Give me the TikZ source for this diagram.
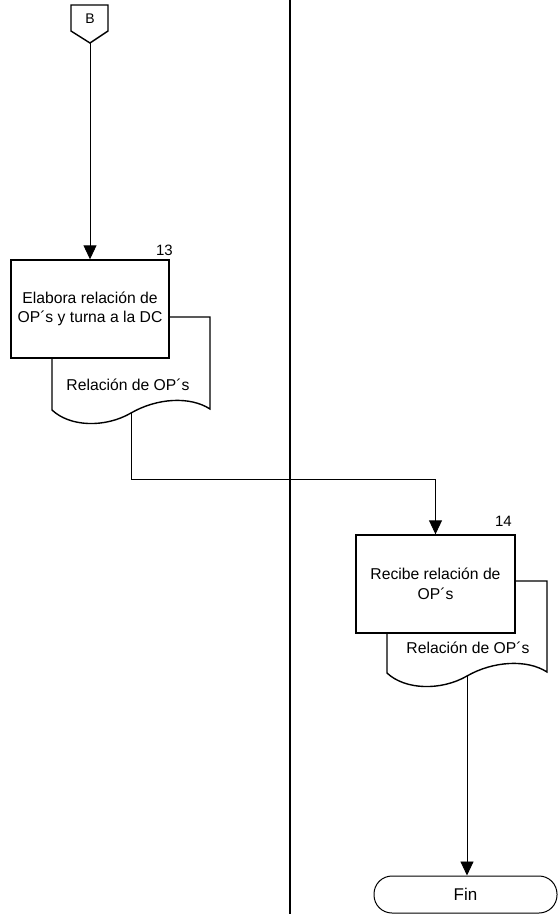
\documentclass[tikz,border=0pt]{standalone}
\usepackage{fontspec}
\setmainfont{Liberation Sans}
\usetikzlibrary{arrows.meta,calc}
\begin{document}
\begin{tikzpicture}[x=1pt,y=-1pt,
  conn/.style={line width=0.9pt},
  arr/.style={conn,-{Triangle[length=14pt,width=13pt]}},
  proc/.style={draw,line width=1.4pt,fill=white,minimum width=158pt,minimum height=98pt,inner sep=0pt,align=center,font=\fontsize{15.7}{19.5}\selectfont},
  docshape/.style={draw,line width=1.4pt,fill=white},
  lbl/.style={font=\fontsize{15.7}{19}\selectfont,inner sep=0pt},
  num/.style={font=\fontsize{15}{18}\selectfont,inner sep=0pt}]
\useasboundingbox (0,0) rectangle (559,914);
% lane divider
\draw[line width=2pt] (290,0) -- (290,914);
% off-page connector B
\draw[line width=1.4pt,fill=white] (71,5) -- (108,5) -- (108,31) -- (90,43) -- (71,31) -- cycle;
\node[lbl,font=\fontsize{14}{16}\selectfont] (B) at (90,19) {B};
\coordinate (Bt) at (90,43);
% document 13
\draw[docshape] (52,317) -- (210,317) -- (210,409)
  .. controls (190,396) and (157,398) .. (131,413)
  .. controls (105,428) and (70,427) .. (52,410) -- cycle;
\coordinate (d13) at (131,413);
\node[lbl] (t13) at (128,385) {Relación de OP´s};
% process 13
\node[proc] (box13) at (90,309) {Elabora relación de\\OP´s y turna a la DC};
\node[num,anchor=south east] (n13) at (173,256) {13};
% document 14
\draw[docshape] (387,581) -- (547,581) -- (547,672)
  .. controls (527,659) and (493,661) .. (467,676)
  .. controls (441,691) and (405,690) .. (387,673) -- cycle;
\coordinate (d14) at (467,676);
\node[lbl] (t14) at (468,648) {Relación de OP´s};
% process 14
\node[proc,minimum width=159pt] (box14) at (435.5,584) {Recibe relación de\\OP´s};
\node[num,anchor=south east] (n14) at (512,527) {14};
% terminator
\node[draw,line width=1pt,rounded corners=18pt,minimum width=183pt,minimum height=37pt,inner sep=0pt,font=\fontsize{17}{20}\selectfont] (fin) at (465.5,894.5) {Fin};
% connectors
\draw[arr] (Bt) -- (box13.north);
\coordinate (j) at (131,479);
\draw[arr] (d13) -- (j) -| (box14.north);
\draw[arr] (d14) -- (d14 |- fin.north);
\end{tikzpicture}
\end{document}
